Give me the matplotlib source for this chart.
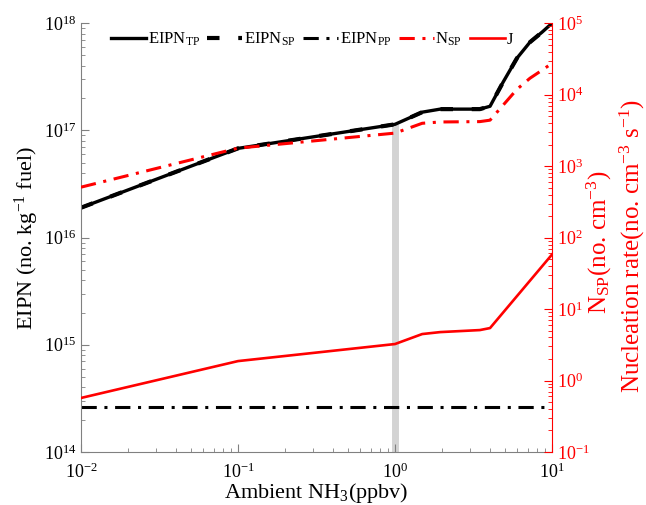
import matplotlib
matplotlib.use('Agg')
from matplotlib import pyplot as plt
from matplotlib.ticker import LogLocator, NullFormatter

plt.rcParams['font.family'] = ['Liberation Serif', 'DejaVu Serif']
plt.rcParams['mathtext.fontset'] = 'custom'
plt.rcParams['mathtext.rm'] = 'Liberation Serif'
plt.rcParams['mathtext.it'] = 'Liberation Serif:italic'
plt.rcParams['axes.unicode_minus'] = False

# values
nh3 = [0.01, 0.1, 1.0, 1.49, 1.94, 3.47, 4.03, 4.88, 5.98, 7.24, 8.63, 10.0]
eipn_tp = [1.9e16, 6.8e16, 1.14e17, 1.48e17, 1.58e17, 1.58e17, 1.68e17,
           2.82e17, 4.72e17, 6.66e17, 8.24e17, 1.0e18]
eipn_sp = list(eipn_tp)
eipn_pp = [2.6e14] * len(nh3)
n_sp = [508, 1786, 2900, 3980, 4150, 4200, 4400, 7130, 1.19e4, 1.70e4, 2.2e4, 2.75e4]
nh3_j = [0.01, 0.1, 1.0, 1.49, 1.94, 3.47, 4.03, 10.0]
j_rate = [0.57, 1.87, 3.24, 4.47, 4.76, 5.08, 5.42, 58.0]

red = '#ff0000'
grey = '#808080'

fig = plt.figure(figsize=(6.46, 5.05), dpi=100)
ax = fig.add_axes([0.1254, 0.105, 0.7291, 0.849])
ax2 = ax.twinx()

ax.vlines(1.0, 1e14, 1.14e17, color='#d3d3d3', lw=5, zorder=0)

l2, = ax.plot(nh3, eipn_sp, color='k', ls=(0, (3, 4.5)), lw=3)
l1, = ax.plot(nh3, eipn_tp, color='k', ls='-', lw=2.4)
l3, = ax.plot(nh3, eipn_pp, color='k', ls=(0, (5, 2.5, 1, 2.5)), lw=2.2)
l4, = ax2.plot(nh3, n_sp, color=red, ls=(0, (5, 2.5, 1, 2.5)), lw=2.2)
l5, = ax2.plot(nh3_j, j_rate, color=red, ls='-', lw=1.9)

ax.set_xscale('log')
ax.set_yscale('log')
ax2.set_yscale('log')
ax.set_xlim(1e-2, 1e1)
ax.set_ylim(1e14, 1e18)
ax2.set_ylim(1e-1, 1e5)

for a in (ax, ax2):
    a.spines['top'].set_visible(False)
ax.spines['left'].set_color(grey)
ax.spines['bottom'].set_color(grey)
ax.spines['right'].set_visible(False)
ax2.spines['left'].set_visible(False)
ax2.spines['bottom'].set_visible(False)
ax2.spines['right'].set_color(red)

ax.xaxis.set_major_locator(LogLocator(base=10, numticks=10))
ax.xaxis.set_minor_locator(LogLocator(base=10, subs=range(2, 10), numticks=20))
ax.yaxis.set_major_locator(LogLocator(base=10, numticks=10))
ax.yaxis.set_minor_locator(LogLocator(base=10, subs=range(2, 10), numticks=20))
ax2.yaxis.set_major_locator(LogLocator(base=10, numticks=10))
ax2.yaxis.set_minor_locator(LogLocator(base=10, subs=range(2, 10), numticks=20))
for a in (ax, ax2):
    a.xaxis.set_minor_formatter(NullFormatter())
    a.yaxis.set_minor_formatter(NullFormatter())
ax2.tick_params(axis='x', which='both', bottom=False, labelbottom=False)

ax.tick_params(axis='both', which='major', direction='in', length=6, color=grey,
               labelsize=13, labelcolor='k', top=False)
ax.tick_params(axis='both', which='minor', direction='in', length=3, color=grey, top=False)
ax.tick_params(axis='x', pad=8)
ax2.tick_params(axis='y', which='major', direction='in', length=6, color=red,
                labelsize=13, labelcolor=red)
ax2.tick_params(axis='y', which='minor', direction='in', length=3, color=red)

ax.set_xlabel('Ambient NH$_3$(ppbv)', fontsize=16, labelpad=-1)
ax.set_ylabel('EIPN (no. kg$^{-1}$ fuel)', fontsize=16, labelpad=2)
ax2.text(1.10, 0.49, 'N$_{\\rm SP}$(no. cm$^{-3}$)', transform=ax2.transAxes,
         rotation=90, ha='center', va='center', color=red, fontsize=18)
ax2.text(1.17, 0.48, 'Nucleation rate(no. cm$^{-3}$ s$^{-1}$)', transform=ax2.transAxes,
         rotation=90, ha='center', va='center', color=red, fontsize=18)

ax2.legend([l1, l2, l3, l4, l5],
           ['EIPN$_{\\rm TP}$', 'EIPN$_{\\rm SP}$', 'EIPN$_{\\rm PP}$', 'N$_{\\rm SP}$', 'J'],
           loc='center', bbox_to_anchor=(0.49, 0.962), ncol=5, frameon=False,
           fontsize=12, handlelength=2.1, handletextpad=0.1, columnspacing=0.45)

fig.savefig('out.png', dpi=100)
